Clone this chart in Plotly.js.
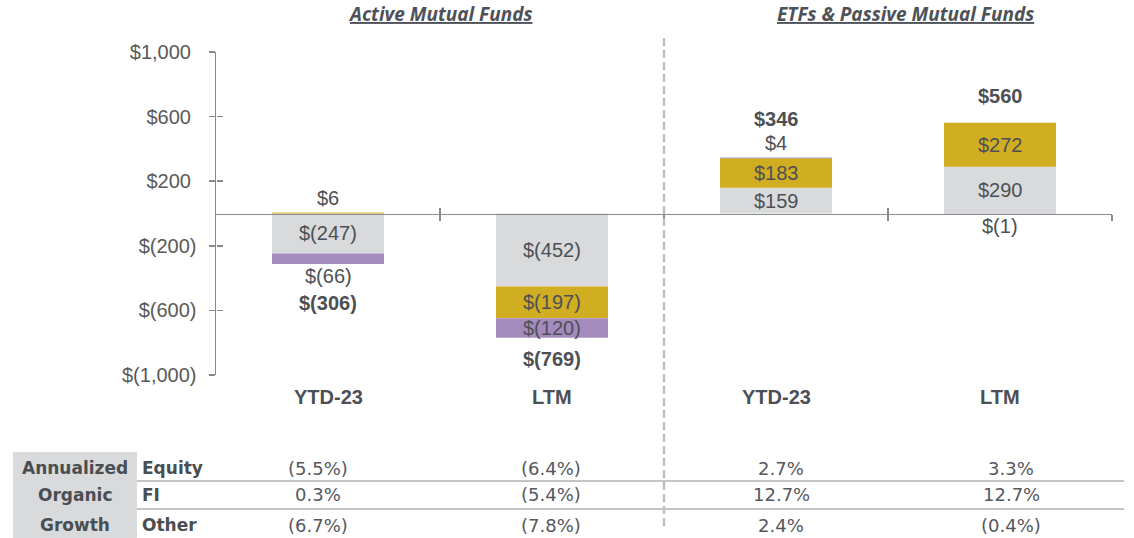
<!DOCTYPE html>
<html>
<head>
<meta charset="utf-8">
<script src="https://cdn.plot.ly/plotly-3.0.1.min.js"></script>
<style>html,body{margin:0;padding:0;background:#fff}#chart{width:1134px;height:538px}</style>
</head>
<body>
<div id="chart"></div>
<script>
// ---------------- data ----------------
const categories = ['YTD-23', 'LTM', 'YTD-23', 'LTM'];
const groupTitles = ['Active Mutual Funds', 'ETFs & Passive Mutual Funds'];
const seriesNames = ['Equity', 'FI', 'Other'];
const equity = [-247, -452, 159, 290];
const fi = [6, -197, 183, 272];
const other = [-66, -120, 4, -1];
const totals = [-306, -769, 346, 560];
const yTicks = [-1000, -600, -200, 200, 600, 1000];
const headerLines = ['Annualized', 'Organic', 'Growth'];
const growthEquity = ['(5.5%)', '(6.4%)', '2.7%', '3.3%'];
const growthFI = ['0.3%', '(5.4%)', '12.7%', '12.7%'];
const growthOther = ['(6.7%)', '(7.8%)', '2.4%', '(0.4%)'];

// ---------------- style ----------------
const colors = ['#d9dadc', '#d1ad22', '#a48bbe'];
const textColor = '#4c5055';
const axisColor = '#8a8a8a';
const F = 'Liberation Sans, Arial, sans-serif';
const TF = 'DejaVu Sans, sans-serif';

function money(v) {
  const s = Math.abs(v).toLocaleString('en-US');
  return v < 0 ? '$(' + s + ')' : '$' + s;
}

const xIdx = categories.map((c, i) => i);
const series = [equity, fi, other];

const traces = series.map((vals, k) => ({
  type: 'bar', x: xIdx, y: vals, name: seriesNames[k], width: 0.5,
  marker: {color: colors[k], line: {width: 0}},
  hoverinfo: 'skip', showlegend: false
}));
// helper trace for the overlaying axes (crossing tick marks)
traces.push({type: 'scatter', x: [], y: [], xaxis: 'x2', yaxis: 'y2', hoverinfo: 'skip', showlegend: false});

const annotations = [];
// segment labels
const posTop = xIdx.map(() => 0), negBot = xIdx.map(() => 0);
const outsidePos = xIdx.map(() => false), outsideNeg = xIdx.map(() => false);
const small = [];
series.forEach((vals) => {
  vals.forEach((v, i) => {
    let y0, y1;
    if (v >= 0) { y0 = posTop[i]; y1 = y0 + v; posTop[i] = y1; }
    else { y0 = negBot[i]; y1 = y0 + v; negBot[i] = y1; }
    if (Math.abs(v) >= 100) {
      annotations.push({x: i, y: (y0 + y1) / 2, xref: 'x', yref: 'y', text: money(v), showarrow: false,
        font: {family: F, size: 20, color: textColor}, yanchor: 'middle'});
    } else {
      small.push([i, v]);
    }
  });
});
small.forEach(([i, v]) => {
  if (v >= 0) {
    outsidePos[i] = true;
    annotations.push({x: i, y: posTop[i], xref: 'x', yref: 'y', text: money(v), showarrow: false,
      font: {family: F, size: 20, color: textColor}, yanchor: 'middle', yshift: 15});
  } else {
    outsideNeg[i] = true;
    annotations.push({x: i, y: negBot[i], xref: 'x', yref: 'y', text: money(v), showarrow: false,
      font: {family: F, size: 20, color: textColor}, yanchor: 'middle', yshift: -12});
  }
});
totals.forEach((t, i) => {
  const pos = t >= 0;
  const hasOut = pos ? outsidePos[i] : outsideNeg[i];
  const shift = hasOut ? 39 : (pos ? 27 : 21);
  annotations.push({x: i, y: pos ? posTop[i] : negBot[i], xref: 'x', yref: 'y', text: '<b>' + money(t) + '</b>',
    showarrow: false, font: {family: F, size: 20, color: textColor}, yanchor: 'middle', yshift: pos ? shift : -shift});
});
// category labels
categories.forEach((c, i) => {
  annotations.push({x: i, y: -0.068, xref: 'x', yref: 'paper', text: '<b>' + c + '</b>', showarrow: false,
    font: {family: F, size: 20, color: textColor}, yanchor: 'middle'});
});
// group titles
const titleX = [0.5, 2.58];
groupTitles.forEach((g, j) => {
  annotations.push({x: titleX[j], y: 1.117, xref: 'x', yref: 'paper', text: '<b><i>' + g + '</i></b>', showarrow: false,
    font: {family: 'Open Sans, sans-serif', size: 19, color: '#4e5258', style: 'italic', weight: 'bold', lineposition: 'under'},
    yanchor: 'middle'});
});
// table
const rowY = [-0.288, -0.3715, -0.4644];
const colShift = [-10, -1, 5, 11];
headerLines.forEach((h, r) => {
  annotations.push({x: -0.157, y: rowY[r], xref: 'paper', yref: 'paper', text: '<b>' + h + '</b>', showarrow: false,
    font: {family: TF, size: 17, color: '#4a4d52'}, xanchor: 'center', yanchor: 'middle'});
});
seriesNames.forEach((n, r) => {
  annotations.push({x: -0.085, y: rowY[r], xref: 'paper', yref: 'paper', text: '<b>' + n + '</b>', showarrow: false,
    font: {family: TF, size: 17, color: '#4a4d52'}, xanchor: 'left', yanchor: 'middle'});
});
[growthEquity, growthFI, growthOther].forEach((row, r) => {
  row.forEach((v, i) => {
    annotations.push({x: i, y: rowY[r], xref: 'x', yref: 'paper', text: v, showarrow: false, xshift: colShift[i],
      font: {family: TF, size: 18, color: '#55585d'}, xanchor: 'center', yanchor: 'middle'});
  });
});

const shapes = [
  {type: 'rect', xref: 'paper', yref: 'paper', x0: -0.2266, x1: -0.0882, y0: -0.2384, y1: -0.5046,
    fillcolor: '#d9dadc', line: {width: 0}, layer: 'below'},
  {type: 'line', xref: 'paper', yref: 'paper', x0: -0.0882, x1: 1.0134, y0: -0.3282, y1: -0.3282,
    line: {color: '#c4c4c4', width: 2}},
  {type: 'line', xref: 'paper', yref: 'paper', x0: -0.0882, x1: 1.0134, y0: -0.4149, y1: -0.4149,
    line: {color: '#c4c4c4', width: 2}},
  {type: 'line', xref: 'x', yref: 'paper', x0: 1.5, x1: 1.5, y0: 1.043, y1: -0.48,
    line: {color: '#c0c0c0', width: 2.5, dash: '8px,4px'}}
];

const layout = {
  width: 1134, height: 538,
  margin: {l: 216, r: 22, t: 52, b: 163, pad: 0},
  paper_bgcolor: '#ffffff', plot_bgcolor: '#ffffff',
  barmode: 'relative', showlegend: false,
  xaxis: {range: [-0.5, 3.5], fixedrange: true, anchor: 'free', position: 0.5,
    showline: true, linecolor: axisColor, linewidth: 1.5,
    tickmode: 'array', tickvals: [0.5, 1.5, 2.5, 3.5], ticks: 'outside', ticklen: 6, tickwidth: 1.5, tickcolor: axisColor,
    showticklabels: false, showgrid: false, zeroline: false},
  xaxis2: {range: [-0.5, 3.5], fixedrange: true, overlaying: 'x', anchor: 'free', position: 0.5,
    showline: false, tickmode: 'array', tickvals: [0.5, 1.5, 2.5, 3.5], ticks: 'inside', ticklen: 6, tickwidth: 1.5,
    tickcolor: axisColor, showticklabels: false, showgrid: false, zeroline: false},
  yaxis: {range: [-1000, 1000], fixedrange: true, showline: true, linecolor: axisColor, linewidth: 1.5,
    tickmode: 'array', tickvals: yTicks, ticktext: yTicks.map(v => v < 0 ? money(v) : money(v) + '\u2008'),
    ticks: 'outside', ticklen: 6, tickwidth: 1.5, tickcolor: axisColor, ticklabelstandoff: 8,
    tickfont: {family: F, size: 20, color: '#595959'}, showgrid: false, zeroline: false},
  yaxis2: {range: [-1000, 1000], fixedrange: true, overlaying: 'y', anchor: 'free', position: 0, side: 'left',
    showline: false, tickmode: 'array', tickvals: yTicks, ticks: 'inside', ticklen: 6, tickwidth: 1.5,
    tickcolor: axisColor, showticklabels: false, showgrid: false, zeroline: false},
  annotations: annotations,
  shapes: shapes
};

Plotly.newPlot('chart', traces, layout, {staticPlot: true, displayModeBar: false});
</script>
</body>
</html>
